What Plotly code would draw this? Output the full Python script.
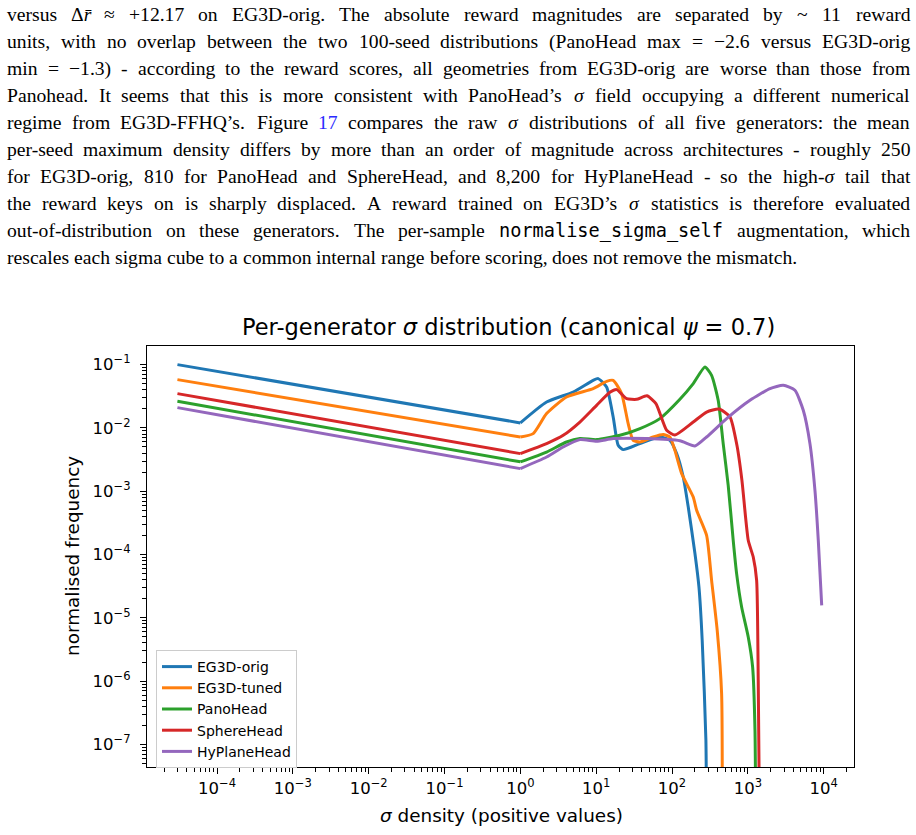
import re
import plotly.graph_objects as go

# ---------------- data ----------------
series_names = ["EG3D-orig", "EG3D-tuned", "PanoHead", "SphereHead", "HyPlaneHead"]
series_colors = ["#1f77b4", "#ff7f0e", "#2ca02c", "#d62728", "#9467bd"]

eg3d_orig_sigma = [3.0e-5, 1.0, 2.218, 4.977, 9.12, 10.62, 13.71, 16.75, 19.50, 22.70, 37.76,
                   69.18, 93.76, 115.1, 140.6, 163.7, 200.4, 226.5, 250.0, 279.9, 285.8]
eg3d_orig_freq = [0.100, 0.0120, 0.02564, 0.0369, 0.05649, 0.06012, 0.04426, 0.01486, 0.005309,
                  0.004539, 0.005649, 0.007178, 0.006368, 0.003926, 0.001675, 5.62e-4, 1.045e-4,
                  3.07e-5, 4.42e-6, 1.16e-7, 1e-9]

eg3d_tuned_sigma = [3.0e-5, 1.0, 1.476, 2.218, 4.064, 9.12, 13.71, 16.75, 21.63, 26.42, 30.76,
                    37.76, 56.49, 76.56, 93.76, 109.1, 134.0, 190.5, 211.3, 285.8, 332.7, 394.5,
                    450.8, 459.2]
eg3d_tuned_freq = [0.0579, 0.00718, 0.00813, 0.01683, 0.03076, 0.04178, 0.05445, 0.05649, 0.03483,
                   0.01169, 0.006368, 0.005984, 0.007178, 0.007834, 0.007178, 0.004426, 0.001897,
                   8.09e-4, 4.99e-4, 2.01e-4, 3.91e-5, 6.34e-6, 6.35e-7, 1e-9]

panohead_sigma = [3.0e-5, 1.0, 2.218, 4.064, 6.095, 10.12, 20.56, 37.76, 69.18, 127.1, 190.5,
                  271.6, 332.7, 406.4, 473.2, 550.8, 641.2, 711.2, 827.9, 1012, 1156, 1242, 1279]
panohead_freq = [0.0263, 0.00291, 0.00416, 0.005984, 0.006776, 0.006531, 0.007638, 0.00975, 0.01403,
                 0.02831, 0.05012, 0.09162, 0.06776, 0.02729, 0.005649, 0.001239, 1.675e-4, 4.99e-5,
                 1.483e-5, 4.98e-6, 1.671e-6, 1.671e-7, 1e-9]

spherehead_sigma = [3.0e-5, 1.0, 2.218, 3.673, 6.095, 10.12, 15.17, 18.58, 25.18, 34.12, 46.67,
                    61.38, 84.92, 109.1, 190.5, 285.8, 415.9, 580.8, 717.8, 835.6, 1012, 1178,
                    1306, 1371, 1445]
spherehead_freq = [0.0348, 0.003926, 0.005649, 0.007638, 0.01239, 0.02275, 0.03648, 0.04027, 0.02904,
                   0.02831, 0.03214, 0.02421, 0.009162, 0.007727, 0.01239, 0.01782, 0.01991, 0.01496,
                   0.005309, 0.001486, 1.675e-4, 9.12e-5, 3.91e-5, 1.028e-6, 1e-9]

hyplanehead_sigma = [3.0e-5, 1.0, 2.218, 3.673, 6.095, 10.12, 16.75, 46.24, 127.1, 200.4, 285.8,
                     524.8, 1067, 1959, 2931, 4178, 5383, 6592, 7674, 8492, 9419]
hyplanehead_freq = [0.0209, 0.002275, 0.003467, 0.004989, 0.006531, 0.006138, 0.006776, 0.006776,
                    0.006252, 0.005176, 0.007178, 0.01403, 0.02729, 0.04178, 0.0471, 0.03926, 0.01897,
                    0.005649, 0.001033, 1.675e-4, 1.574e-5]

x_tick_exponents = [-4, -3, -2, -1, 0, 1, 2, 3, 4]
y_tick_exponents = [-7, -6, -5, -4, -3, -2, -1]

MONO_SIZE = 18.6
MONO = ("<span style=\"font-family:'DejaVu Sans Mono';font-size:%.1fpx\">normalise_sigma_self</span>"
        % MONO_SIZE)
paragraph_lines = [
    "versus Δ<i>r\u0304</i> ≈ +12.17 on EG3D-orig. The absolute reward magnitudes are separated by ~ 11 reward",
    "units, with no overlap between the two 100-seed distributions (PanoHead max = −2.6 versus EG3D-orig",
    "min = −1.3) - according to the reward scores, all geometries from EG3D-orig are worse than those from",
    "Panohead. It seems that this is more consistent with PanoHead’s <i>σ</i> field occupying a different numerical",
    "regime from EG3D-FFHQ’s. Figure <span style=\"color:#2a2aff\">17</span> compares the raw <i>σ</i> distributions of all five generators: the mean",
    "per-seed maximum density differs by more than an order of magnitude across architectures - roughly 250",
    "for EG3D-orig, 810 for PanoHead and SphereHead, and 8,200 for HyPlaneHead - so the high-<i>σ</i> tail that",
    "the reward keys on is sharply displaced. A reward trained on EG3D’s <i>σ</i> statistics is therefore evaluated",
    "out-of-distribution on these generators. The per-sample " + MONO + " augmentation, which",
    "rescales each sigma cube to a common internal range before scoring, does not remove the mismatch.",
]

# ---------------- Times (Liberation Serif) advance widths, 1/1000 em ----------------
TW = {" ": 250, "!": 333, "(": 333, ")": 333, "+": 564, ",": 250, "-": 333, ".": 250, "/": 278,
      ":": 278, ";": 278, "=": 564, "?": 444, "’": 333, "'": 180, "~": 541,
      "A": 722, "B": 667, "C": 667, "D": 722, "E": 611, "F": 556, "G": 722, "H": 722, "I": 333,
      "J": 389, "K": 722, "L": 611, "M": 889, "N": 722, "O": 722, "P": 556, "Q": 722, "R": 667,
      "S": 556, "T": 611, "U": 722, "V": 722, "W": 944, "X": 722, "Y": 722, "Z": 611,
      "a": 444, "b": 500, "c": 444, "d": 500, "e": 444, "f": 333, "g": 500, "h": 500, "i": 278,
      "j": 278, "k": 500, "l": 278, "m": 778, "n": 500, "o": 500, "p": 500, "q": 500, "r": 333,
      "s": 389, "t": 278, "u": 500, "v": 500, "w": 722, "x": 500, "y": 500, "z": 444,
      "Δ": 612, "≈": 549, "−": 564, "σ": 550, "\u0304": 0}
for d in "0123456789":
    TW[d] = 500

def word_width(word, size):
    if "normalise" in word:
        return 20 * 0.602 * MONO_SIZE
    plain = re.sub(r"<[^>]+>", "", word)
    return sum(TW.get(c, 500) for c in plain) / 1000.0 * size

def split_words(txt):
    protected = re.sub(r"<[^>]*>", lambda m: m.group(0).replace(" ", "\u0001"), txt)
    return [w.replace("\u0001", " ") for w in protected.split(" ")]

# ---------------- layout geometry ----------------
W, H = 916, 835
L, R, T, B = 147, 62, 346, 68
PW, PH = W - L - R, H - T - B

def px_x(x):
    return (x - L) / PW

def px_y(y):
    return (H - B - y) / PH

fig = go.Figure()
xs = [eg3d_orig_sigma, eg3d_tuned_sigma, panohead_sigma, spherehead_sigma, hyplanehead_sigma]
ys = [eg3d_orig_freq, eg3d_tuned_freq, panohead_freq, spherehead_freq, hyplanehead_freq]
for name, col, x, y in zip(series_names, series_colors, xs, ys):
    # straight (log-log) segment from the lowest bin up to sigma = 1
    fig.add_trace(go.Scatter(x=x[:2], y=y[:2], mode="lines", name=name, legendgroup=name,
                             showlegend=False, line=dict(color=col, width=3)))
    # smooth part of the distribution
    fig.add_trace(go.Scatter(x=x[1:], y=y[1:], mode="lines", name=name, legendgroup=name,
                             line=dict(color=col, width=3, shape="spline", smoothing=0.55)))

def sup_label(e):
    s = str(e).replace("-", "−")
    return "10<sup>" + s + "</sup>"

def minor_vals(lo, hi):
    out = []
    for e in range(lo, hi + 1):
        for m in range(2, 10):
            out.append(m * 10.0 ** e)
    return out

axis_font = dict(family="DejaVu Sans", size=16.5, color="#000000")

fig.update_xaxes(type="log", range=[-4.924, 4.40],
                 tickvals=[10.0 ** e for e in x_tick_exponents],
                 ticktext=[sup_label(e) for e in x_tick_exponents],
                 ticks="outside", ticklen=6, tickwidth=1.2, tickcolor="#000",
                 minor=dict(tickvals=minor_vals(-5, 4), ticks="outside", ticklen=3.5,
                            tickwidth=0.9, tickcolor="#000", showgrid=False),
                 showline=True, linecolor="#000", linewidth=1.2, mirror=True,
                 showgrid=False, zeroline=False, tickfont=axis_font)
fig.update_yaxes(type="log", range=[-7.357, -0.706],
                 tickvals=[10.0 ** e for e in y_tick_exponents],
                 ticktext=[sup_label(e) for e in y_tick_exponents],
                 ticks="outside", ticklen=6, tickwidth=1.2, tickcolor="#000",
                 ticklabelstandoff=6,
                 minor=dict(tickvals=minor_vals(-8, -1), ticks="outside", ticklen=3.5,
                            tickwidth=0.9, tickcolor="#000", showgrid=False),
                 showline=True, linecolor="#000", linewidth=1.2, mirror=True,
                 showgrid=False, zeroline=False, tickfont=axis_font)

annotations = []

# paragraph: justified lines built word by word
TEXT_LEFT, TEXT_RIGHT = 7.0, 910.0
last_words = split_words(paragraph_lines[-1])
natural_last = sum(word_width(w, 1.0) for w in last_words) + 0.25 * (len(last_words) - 1)
FS = 790.0 / natural_last  # font size so that the (unjustified) last line matches
FS = max(17.0, min(FS, 21.0))
line_y0, line_dy = 14.5, 27.05
for i, txt in enumerate(paragraph_lines):
    words = split_words(txt)
    widths = [word_width(w, FS) for w in words]
    if i < len(paragraph_lines) - 1 and len(words) > 1:
        gap = (TEXT_RIGHT - TEXT_LEFT - sum(widths)) / (len(words) - 1)
    else:
        gap = 0.25 * FS
    xpos = TEXT_LEFT
    ypx = line_y0 + i * line_dy
    for w, wd in zip(words, widths):
        annotations.append(dict(text=w, xref="paper", yref="paper",
                                x=px_x(xpos - 1), y=px_y(ypx),
                                xanchor="left", yanchor="middle", showarrow=False,
                                borderpad=0,
                                font=dict(family="Liberation Serif", size=FS, color="#000")))
        xpos += wd + gap

annotations.append(dict(text="Per-generator <i>σ</i> distribution (canonical <i>ψ</i> = 0.7)",
                        xref="paper", yref="paper", x=px_x(508), y=px_y(327),
                        xanchor="center", yanchor="middle", showarrow=False,
                        font=dict(family="DejaVu Sans", size=22.5, color="#000")))
annotations.append(dict(text="<i>σ</i> density (positive values)",
                        xref="paper", yref="paper", x=px_x(501), y=px_y(815),
                        xanchor="center", yanchor="middle", showarrow=False,
                        font=dict(family="DejaVu Sans", size=18.4, color="#000")))
annotations.append(dict(text="normalised frequency", textangle=-90,
                        xref="paper", yref="paper", x=px_x(72), y=px_y(556),
                        xanchor="center", yanchor="middle", showarrow=False,
                        font=dict(family="DejaVu Sans", size=18.4, color="#000")))

fig.update_layout(
    width=W, height=H, margin=dict(l=L, r=R, t=T, b=B, pad=0),
    paper_bgcolor="white", plot_bgcolor="white",
    showlegend=True,
    legend=dict(x=px_x(156), y=px_y(650), xanchor="left", yanchor="top",
                bgcolor="rgba(255,255,255,0.85)", bordercolor="#cccccc", borderwidth=1,
                font=dict(family="DejaVu Sans", size=14, color="#000"),
                itemwidth=30, tracegroupgap=0),
    annotations=annotations,
)

fig.write_html("out.html")
